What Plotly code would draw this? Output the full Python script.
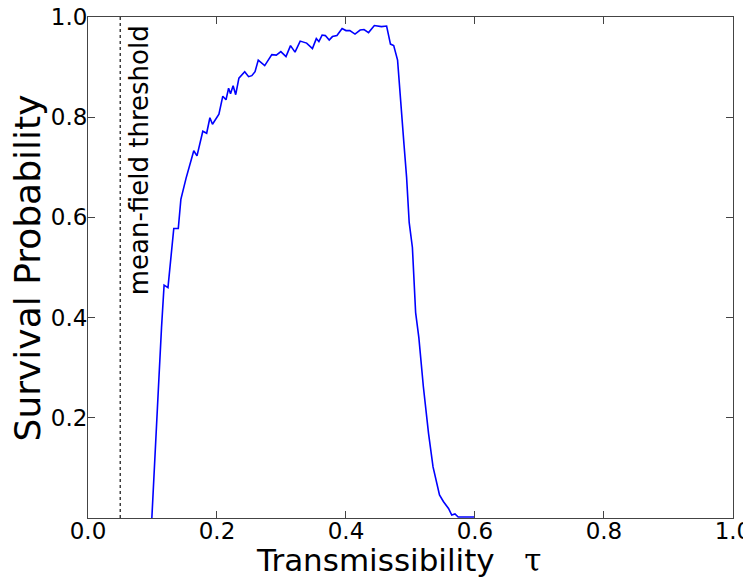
import plotly.graph_objects as go

tau = [0.099, 0.105, 0.110, 0.114, 0.118, 0.124, 0.133, 0.140, 0.144, 0.152,
       0.164, 0.169, 0.178, 0.184, 0.189, 0.193, 0.203, 0.209, 0.214, 0.218,
       0.221, 0.225, 0.229, 0.234, 0.243, 0.249, 0.254, 0.259, 0.264, 0.274,
       0.285, 0.292, 0.299, 0.307, 0.314, 0.321, 0.329, 0.339, 0.348, 0.354,
       0.358, 0.363, 0.368, 0.374, 0.379, 0.386, 0.394, 0.400, 0.406, 0.414,
       0.422, 0.428, 0.435, 0.444, 0.450, 0.455, 0.463, 0.469, 0.474, 0.480,
       0.490, 0.494, 0.498, 0.503, 0.508, 0.513, 0.520, 0.528, 0.535, 0.545,
       0.551, 0.559, 0.564, 0.569, 0.574, 0.600]
survival = [0.0, 0.14, 0.28, 0.38, 0.465, 0.460, 0.578, 0.578, 0.636, 0.678,
            0.733, 0.723, 0.772, 0.768, 0.799, 0.786, 0.806, 0.842, 0.835, 0.858,
            0.847, 0.863, 0.845, 0.878, 0.891, 0.881, 0.883, 0.891, 0.914, 0.903,
            0.925, 0.924, 0.931, 0.921, 0.943, 0.930, 0.952, 0.948, 0.937, 0.957,
            0.951, 0.964, 0.963, 0.954, 0.961, 0.963, 0.977, 0.973, 0.973, 0.966,
            0.974, 0.975, 0.969, 0.983, 0.982, 0.981, 0.982, 0.946, 0.943, 0.914,
            0.745, 0.68, 0.59, 0.54, 0.41, 0.36, 0.262, 0.169, 0.102, 0.046,
            0.033, 0.019, 0.006, 0.008, 0.002, 0.002]

threshold = 0.05
x_ticks = [0.0, 0.2, 0.4, 0.6, 0.8, 1.0]
x_labels = ["0.0", "0.2", "0.4", "0.6", "0.8", "1.0"]
y_ticks = [0.2, 0.4, 0.6, 0.8, 1.0]
y_labels = ["0.2", "0.4", "0.6", "0.8", "1.0"]

FONT = "DejaVu Sans"

fig = go.Figure()
fig.add_trace(go.Scatter(x=tau, y=survival, mode="lines",
                         line=dict(color="#0000ff", width=1.6),
                         showlegend=False, hoverinfo="skip"))

fig.add_shape(type="line", xref="x", yref="paper", x0=threshold, x1=threshold,
              y0=0, y1=1, line=dict(color="#333333", width=1.4, dash="dot"))

axis_common = dict(showline=True, linecolor="#444444", linewidth=1, mirror="ticks",
                   ticks="inside", ticklen=7, tickwidth=1, tickcolor="#444444",
                   showgrid=False, zeroline=False, ticklabeloverflow="allow",
                   tickfont=dict(family=FONT, size=23, color="black"))

fig.update_xaxes(range=[0, 1.0001], tickvals=x_ticks, ticktext=x_labels,
                 ticklabelstandoff=-8, **axis_common)
fig.update_yaxes(range=[0, 1.0001], tickvals=y_ticks, ticktext=y_labels,
                 ticklabelstandoff=-5, **axis_common)

fig.add_annotation(text="mean-field threshold", textangle=-90,
                   xref="x", yref="paper", x=threshold, y=1,
                   xanchor="left", yanchor="top", xshift=2, yshift=-6,
                   showarrow=False, font=dict(family=FONT, size=26, color="black"))

fig.add_annotation(text="Survival Probability", textangle=-90,
                   xref="paper", yref="paper", x=-0.128, y=0.5,
                   xanchor="left", yanchor="middle",
                   showarrow=False, font=dict(family=FONT, size=36, color="black"))

fig.add_annotation(text="Transmissibility\u00a0\u00a0\u00a0<span style=\"font-family:'DejaVu Serif'\">\u03c4</span>",
                   xref="paper", yref="paper", x=0.481, y=-0.044,
                   xanchor="center", yanchor="top",
                   showarrow=False, font=dict(family=FONT, size=31, color="black"))

fig.update_layout(width=751, height=577,
                  margin=dict(l=80, r=26, t=9, b=67, autoexpand=False),
                  plot_bgcolor="white", paper_bgcolor="white",
                  font=dict(family=FONT, color="black"))

fig.write_html("out.html")
